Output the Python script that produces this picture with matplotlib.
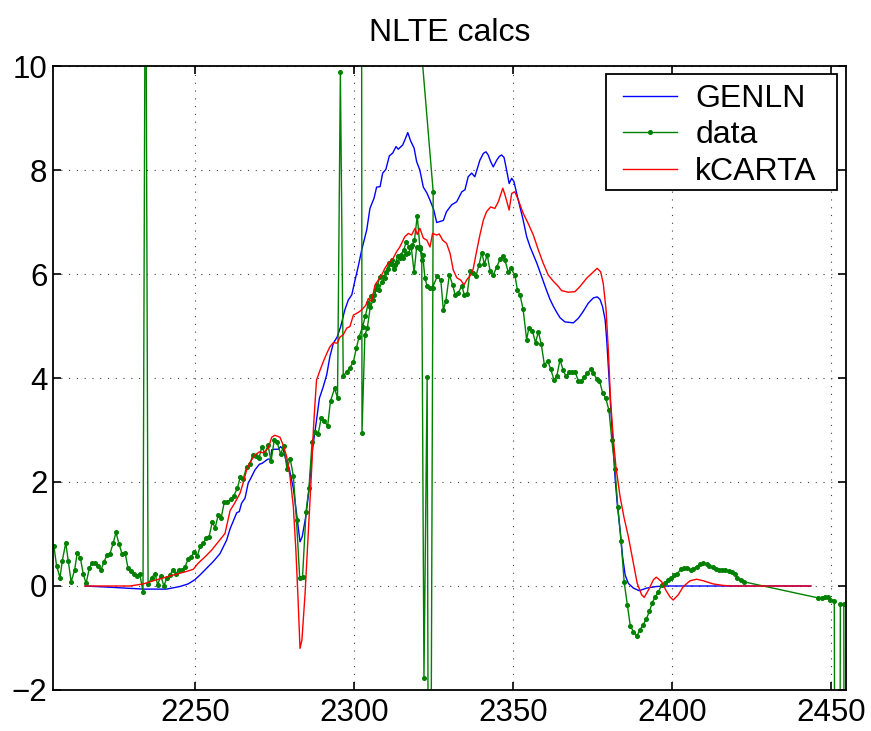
import matplotlib
matplotlib.use("Agg")
import matplotlib.pyplot as plt
from matplotlib.lines import Line2D
from matplotlib.legend_handler import HandlerLine2D
from matplotlib.patches import Rectangle

plt.rcParams['font.family'] = ['Liberation Sans', 'DejaVu Sans']

# GENLN calc
genln_x = [2215.3, 2225.0, 2233.6, 2240.9, 2245.1, 2247.7, 2249.8, 2251.4, 2253.5, 2255.6,
           2257.7, 2259.8, 2260.9, 2261.9, 2263.0, 2263.8, 2264.5, 2265.6, 2266.6, 2267.4,
           2268.7, 2270.1, 2271.0, 2271.9, 2272.8, 2273.7, 2274.0, 2275.0, 2276.1, 2276.8,
           2277.6, 2278.5, 2279.5, 2280.8, 2281.8, 2282.9, 2283.6, 2284.7, 2285.8, 2286.8,
           2287.9, 2289.0, 2290.2, 2291.3, 2292.3, 2293.4, 2294.6, 2295.7, 2297.0, 2298.1,
           2299.2, 2300.2, 2301.2, 2302.3, 2303.9, 2304.9, 2306.2, 2307.0, 2308.1, 2308.9,
           2309.9, 2311.0, 2312.1, 2313.1, 2313.8, 2315.2, 2315.9, 2316.8, 2317.7, 2318.8,
           2319.6, 2320.6, 2321.7, 2322.8, 2323.8, 2325.0, 2325.9, 2326.9, 2328.0, 2329.0,
           2330.6, 2332.2, 2333.8, 2334.8, 2335.8, 2336.9, 2337.9, 2338.7, 2339.5, 2340.6,
           2341.4, 2342.1, 2342.9, 2343.7, 2344.8, 2345.6, 2346.3, 2347.1, 2347.9, 2348.7,
           2349.5, 2350.2, 2351.3, 2352.1, 2353.1, 2354.2, 2355.3, 2356.3, 2357.4, 2358.4,
           2359.4, 2360.5, 2361.5, 2362.6, 2363.7, 2364.7, 2366.2, 2368.9, 2370.5, 2372.0,
           2373.6, 2375.2, 2376.4, 2377.3, 2378.1, 2378.9, 2379.4, 2380.1, 2380.7, 2381.5,
           2382.0, 2382.7, 2383.6, 2384.4, 2385.2, 2386.2, 2387.8, 2389.6, 2392.0, 2395.0,
           2398.5, 2443.6]
genln_y = [0.00, -0.03, -0.06, -0.06, -0.01, 0.04, 0.12, 0.21, 0.34, 0.47,
           0.62, 0.88, 1.10, 1.25, 1.41, 1.43, 1.59, 1.69, 1.98, 2.07,
           2.23, 2.34, 2.36, 2.40, 2.44, 2.44, 2.62, 2.63, 2.63, 2.68,
           2.63, 2.42, 2.26, 1.88, 1.40, 0.85, 0.95, 1.33, 1.88, 2.62,
           3.10, 3.61, 3.83, 4.06, 4.41, 4.67, 4.79, 4.99, 5.31, 5.50,
           5.60, 5.88, 6.14, 6.46, 6.85, 7.26, 7.46, 7.67, 7.68, 7.94,
           8.01, 8.27, 8.33, 8.45, 8.40, 8.48, 8.58, 8.72, 8.56, 8.42,
           8.16, 8.00, 7.67, 7.56, 7.42, 7.23, 6.99, 7.01, 7.03, 7.20,
           7.33, 7.39, 7.58, 7.62, 7.87, 7.94, 7.87, 8.03, 8.19, 8.32,
           8.35, 8.29, 8.16, 8.06, 8.19, 8.26, 8.29, 8.24, 8.00, 7.74,
           7.84, 7.78, 7.49, 7.29, 7.04, 6.72, 6.52, 6.37, 6.21, 6.04,
           5.87, 5.68, 5.52, 5.38, 5.26, 5.16, 5.08, 5.06, 5.15, 5.28,
           5.44, 5.54, 5.56, 5.51, 5.37, 5.12, 4.73, 4.03, 3.38, 2.62,
           2.10, 1.59, 1.08, 0.56, 0.21, 0.05, -0.04, -0.09, -0.04, -0.01,
           0.00, 0.00]

# kCARTA calc
kcarta_x = [2215.3, 2229.4, 2233.6, 2237.8, 2243.0, 2247.2, 2249.3, 2250.9, 2253.0, 2255.1,
            2257.2, 2259.3, 2260.9, 2262.4, 2264.0, 2265.0, 2266.1, 2267.1, 2268.7, 2270.1,
            2271.3, 2272.9, 2274.0, 2275.0, 2276.6, 2277.6, 2278.7, 2279.7, 2280.8, 2281.6,
            2282.3, 2282.9, 2283.5, 2284.5, 2285.5, 2286.6, 2287.1, 2287.6, 2288.1, 2289.2,
            2290.2, 2291.3, 2292.3, 2293.4, 2294.6, 2295.5, 2296.5, 2297.6, 2298.6, 2299.7,
            2301.2, 2302.3, 2303.6, 2304.4, 2305.4, 2306.5, 2307.5, 2308.6, 2309.6, 2310.7,
            2312.2, 2313.3, 2314.3, 2315.9, 2317.0, 2318.0, 2319.1, 2319.8, 2320.6, 2321.7,
            2322.8, 2323.8, 2324.6, 2325.9, 2326.7, 2327.8, 2329.0, 2330.1, 2331.1, 2332.2,
            2333.5, 2334.5, 2335.5, 2336.6, 2337.4, 2338.5, 2339.5, 2340.6, 2341.6, 2342.9,
            2344.2, 2345.3, 2346.7, 2347.4, 2348.7, 2349.5, 2350.5, 2351.6, 2353.1, 2354.7,
            2356.3, 2357.9, 2359.4, 2361.0, 2362.6, 2364.2, 2365.2, 2367.3, 2369.4, 2371.0,
            2373.1, 2375.2, 2376.4, 2377.5, 2378.3, 2379.2, 2379.9, 2380.6, 2381.5, 2382.3,
            2383.6, 2384.8, 2386.2, 2387.8, 2389.0, 2390.4, 2391.2, 2392.5, 2394.1, 2395.0,
            2396.7, 2398.0, 2399.3, 2400.3, 2401.9, 2403.5, 2405.6, 2407.7, 2409.8, 2412.9,
            2416.1, 2419.2, 2443.6]
kcarta_y = [0.00, 0.00, 0.04, 0.12, 0.21, 0.28, 0.32, 0.44, 0.56, 0.69,
            0.85, 1.01, 1.45, 1.60, 1.78, 1.98, 2.23, 2.37, 2.52, 2.58,
            2.56, 2.65, 2.86, 2.90, 2.86, 2.71, 2.49, 2.13, 1.53, 0.69,
            -0.27, -1.20, -1.04, -0.14, 1.01, 2.29, 3.00, 3.50, 3.96, 4.15,
            4.31, 4.47, 4.60, 4.68, 4.67, 4.79, 4.83, 4.96, 4.99, 5.21,
            5.26, 5.31, 5.40, 5.53, 5.47, 5.79, 5.88, 5.98, 6.11, 6.21,
            6.30, 6.43, 6.52, 6.72, 6.78, 6.75, 6.88, 6.76, 6.88, 6.69,
            6.65, 6.52, 6.78, 6.75, 6.77, 6.65, 6.59, 6.40, 6.08, 5.93,
            5.88, 5.79, 5.90, 5.98, 6.10, 6.45, 6.75, 7.04, 7.20, 7.29,
            7.26, 7.39, 7.65, 7.52, 7.23, 7.55, 7.58, 7.42, 7.17, 6.97,
            6.75, 6.46, 6.21, 5.98, 5.86, 5.76, 5.68, 5.65, 5.66, 5.76,
            5.92, 6.04, 6.11, 6.04, 5.82, 5.31, 4.54, 3.58, 2.81, 2.29,
            1.72, 1.33, 0.95, 0.44, 0.05, -0.17, -0.22, -0.08, 0.12, 0.17,
            0.08, -0.08, -0.21, -0.27, -0.17, -0.01, 0.10, 0.13, 0.10, 0.04,
            0.01, 0.00, 0.00]

# measured data (two overlapping sweeps, in recorded order)
data_x = [2205.5, 2206.3, 2207.4, 2208.1, 2209.2, 2210.0, 2210.9, 2212.0, 2212.8, 2213.8,
          2214.7, 2215.6, 2216.6, 2217.4, 2218.4, 2219.3, 2220.3, 2221.2, 2222.2, 2223.1,
          2224.1, 2225.0, 2226.0, 2226.9, 2227.9, 2228.8, 2229.7, 2230.6, 2231.6, 2232.5,
          2233.5, 2234.3, 2235.1, 2236.2, 2237.3, 2238.1, 2239.1, 2240.1, 2241.0, 2242.0,
          2242.9, 2243.9, 2244.8, 2245.8, 2246.7, 2247.7, 2248.7, 2249.6, 2250.6, 2251.5,
          2252.5, 2253.4, 2254.3, 2255.3, 2256.2, 2257.2, 2258.1, 2259.1, 2260.0, 2261.2,
          2262.1, 2263.2, 2264.1, 2265.0, 2266.1, 2267.1, 2268.0, 2268.9, 2270.0, 2270.9,
          2271.9, 2272.8, 2273.8, 2274.8, 2275.7, 2276.8, 2277.8, 2278.8, 2279.8, 2280.8,
          2281.8, 2282.8, 2283.7, 2284.8, 2285.7, 2286.7, 2287.6, 2288.6, 2289.6, 2290.5,
          2291.6, 2292.5, 2293.8, 2294.7, 2295.6, 2296.5, 2297.6, 2298.6, 2299.7, 2300.6,
          2301.5, 2302.6, 2303.5, 2304.4, 2305.3, 2306.3, 2307.2, 2308.1, 2309.1, 2310.0,
          2310.9, 2311.8, 2312.8, 2313.6, 2314.6, 2315.5, 2316.3, 2317.3, 2318.2, 2318.9,
          2319.8, 2320.6, 2321.2, 2321.9, 2322.9, 2323.6, 2324.8, 2302.1, 2302.4, 2303.3,
          2304.1, 2305.0, 2305.9, 2306.8, 2307.7, 2308.7, 2309.7, 2310.6, 2311.5, 2312.4,
          2313.3, 2314.3, 2315.2, 2316.1, 2317.0, 2317.9, 2318.8, 2319.6, 2320.6, 2321.5,
          2322.2, 2322.9, 2323.8, 2324.6, 2326.1, 2327.2, 2328.0, 2328.8, 2329.9, 2330.9,
          2331.7, 2332.7, 2333.8, 2334.6, 2335.5, 2336.4, 2337.3, 2338.3, 2339.2, 2340.1,
          2340.9, 2341.8, 2342.7, 2343.7, 2344.8, 2345.8, 2346.7, 2347.4, 2348.4, 2349.2,
          2350.5, 2351.3, 2352.1, 2353.1, 2354.2, 2354.9, 2356.0, 2357.0, 2357.9, 2358.8,
          2359.8, 2360.8, 2361.8, 2362.8, 2363.7, 2364.7, 2365.7, 2366.6, 2367.6, 2368.6,
          2369.5, 2370.5, 2371.4, 2372.3, 2373.3, 2374.4, 2375.2, 2376.2, 2377.1, 2378.1,
          2379.1, 2380.1, 2381.0, 2382.0, 2382.9, 2383.9, 2384.9, 2385.9, 2386.8, 2387.8,
          2388.8, 2389.8, 2390.8, 2391.9, 2392.8, 2393.7, 2394.6, 2395.6, 2396.7, 2397.7,
          2398.6, 2399.6, 2400.6, 2401.6, 2402.7, 2403.7, 2404.8, 2405.8, 2406.6, 2407.7,
          2408.7, 2409.8, 2410.9, 2411.7, 2412.7, 2413.8, 2414.7, 2415.8, 2416.7, 2417.8,
          2418.7, 2419.8, 2420.5, 2421.6, 2422.6, 2446.0, 2447.0, 2448.1, 2448.9, 2449.7,
          2451.0, 2452.0, 2452.9, 2454.0, 2454.6]
data_y = [0.76, 0.39, 0.16, 0.48, 0.83, 0.48, 0.08, 0.31, 0.63, 0.54,
          0.23, 0.05, 0.34, 0.44, 0.44, 0.38, 0.31, 0.46, 0.60, 0.62,
          0.82, 1.03, 0.80, 0.62, 0.63, 0.34, 0.28, 0.23, 0.20, 0.23,
          -0.11, 14.0, 0.03, 0.16, 0.24, 0.02, 0.19, 0.00, 0.16, 0.21,
          0.31, 0.24, 0.31, 0.31, 0.37, 0.51, 0.56, 0.66, 0.58, 0.76,
          0.82, 0.93, 0.95, 1.23, 1.12, 1.37, 1.31, 1.62, 1.62, 1.67,
          1.74, 1.88, 2.10, 2.05, 2.29, 2.34, 2.51, 2.50, 2.46, 2.68,
          2.53, 2.72, 2.40, 2.81, 2.76, 2.54, 2.69, 2.25, 2.45, 2.12,
          1.26, 0.16, 0.18, 1.43, 1.88, 2.76, 2.96, 2.92, 3.24, 3.17,
          3.08, 3.56, 3.80, 3.61, 9.89, 4.04, 4.12, 4.20, 4.31, 4.57,
          4.79, 4.99, 5.20, 5.45, 5.58, 5.60, 5.79, 5.94, 5.94, 6.03,
          6.21, 6.27, 6.17, 6.35, 6.37, 6.46, 6.61, 6.52, 6.56, 6.65,
          7.12, 6.52, 6.27, -1.77, 4.02, -12.0, 7.58, 24.3, 2.94, 4.82,
          4.97, 5.36, 5.50, 5.71, 5.69, 5.85, 5.92, 6.10, 6.19, 6.10,
          6.24, 6.30, 6.30, 6.38, 6.40, 6.52, 6.03, 6.52, 6.49, 6.37,
          5.92, 5.77, 5.74, 5.74, 5.96, 5.88, 5.31, 5.49, 5.99, 5.79,
          5.60, 5.64, 5.77, 5.60, 5.61, 6.06, 6.01, 5.97, 6.17, 6.41,
          6.19, 6.37, 6.06, 5.98, 6.14, 6.28, 6.35, 6.26, 6.04, 6.11,
          5.98, 5.69, 5.60, 5.32, 4.74, 4.96, 4.91, 4.68, 4.89, 4.65,
          4.25, 4.33, 4.17, 3.96, 4.04, 4.35, 4.15, 4.03, 4.11, 4.12,
          4.11, 3.94, 3.94, 4.01, 4.10, 4.17, 4.09, 3.99, 3.95, 3.72,
          3.61, 3.38, 2.81, 2.25, 1.51, 0.87, 0.07, -0.37, -0.76, -0.88,
          -0.97, -0.85, -0.75, -0.63, -0.49, -0.33, -0.21, -0.12, 0.02, 0.06,
          0.12, 0.15, 0.22, 0.24, 0.32, 0.34, 0.34, 0.31, 0.32, 0.37,
          0.42, 0.44, 0.42, 0.38, 0.36, 0.32, 0.31, 0.31, 0.31, 0.29,
          0.26, 0.23, 0.15, 0.12, 0.08, -0.23, -0.24, -0.21, -0.22, -0.27,
          -0.28, -30.0, -0.35, -0.35, -30.0]

xticks = [2250, 2300, 2350, 2400, 2450]
yticks = [-2, 0, 2, 4, 6, 8, 10]

fig = plt.figure(figsize=(8.71, 7.31), dpi=100)
ax = fig.add_axes([0.0609, 0.0561, 0.9101, 0.8536])

ax.plot(genln_x, genln_y, color='#0000ff', lw=1.0, label='GENLN')
ax.plot(data_x, data_y, color='#008000', lw=1.0, marker='o', ms=2.6, label='data')
ax.plot(kcarta_x, kcarta_y, color='#ff0000', lw=1.0, label='kCARTA')

ax.set_xlim(2205.2, 2454.6)
ax.set_ylim(-2, 10)
ax.set_xticks(xticks)
ax.set_yticks(yticks)
ax.tick_params(direction='in', length=6, width=1.2, labelsize=22.5,
               top=True, right=True)
ax.tick_params(axis='x', pad=6)
ax.tick_params(axis='y', pad=4)
ax.grid(True, color='0.25', linestyle=(0, (1, 6)), linewidth=0.8)
for s in ax.spines.values():
    s.set_linewidth(1.3)

ax.set_title('NLTE calcs', fontsize=23, pad=18)

# legend box drawn separately so the side padding can be wider than the top/bottom
ax.add_patch(Rectangle((0.6976, 0.8013), 0.2911, 0.1859, transform=ax.transAxes,
                       facecolor='white', edgecolor='black', lw=1.3, zorder=4))
leg = ax.legend(loc='upper left', bbox_to_anchor=(0.6976, 0.9813), borderaxespad=0,
                fontsize=23, frameon=False, handlelength=2.03, handletextpad=0.56,
                labelspacing=0.2, borderpad=0.2,
                handler_map={Line2D: HandlerLine2D(xpad=0.33)})
leg.set_zorder(5)

plt.savefig('out.png', dpi=100)
